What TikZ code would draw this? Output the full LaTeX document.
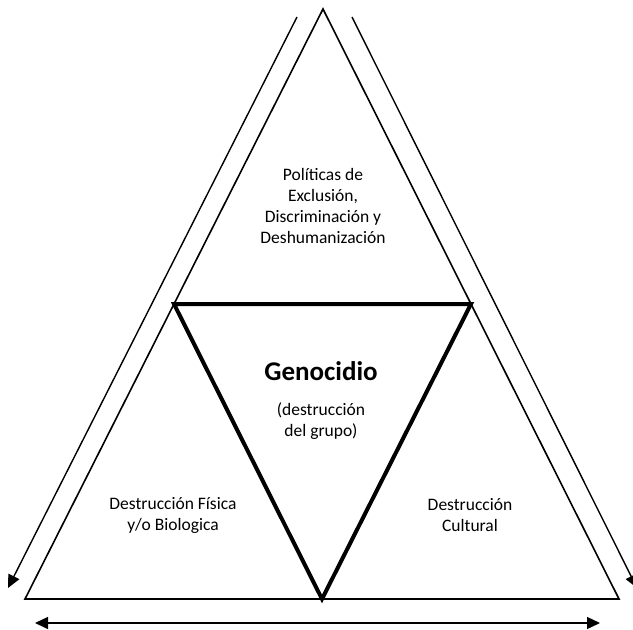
\documentclass[tikz,border=0pt]{standalone}
\usepackage{fontspec}
\setmainfont{Carlito}
\usepackage{tikz}
\usetikzlibrary{arrows.meta,calc}

\begin{document}
\begin{tikzpicture}[x=1pt, y=-1pt,
    outer/.style={line width=1.6pt, line join=miter},
    inner/.style={line width=4pt, line join=miter},
    label/.style={align=center, font=\fontsize{17.5}{21}\selectfont},
    arrow/.style={-{Triangle[length=13pt, width=12pt]}, line width=1.4pt}
]
\useasboundingbox (0,0) rectangle (633,630);

% outer triangle
\coordinate (top) at (323,9);
\coordinate (bl) at (25,599);
\coordinate (br) at (619,599);
\draw[outer] (top) -- (bl) -- (br) -- cycle;

% inner triangle on the midpoints
\coordinate (ml) at ($(top)!0.5!(bl)$);
\coordinate (mr) at ($(top)!0.5!(br)$);
\coordinate (mb) at ($(bl)!0.5!(br)$);
\draw[inner] (ml) -- (mr) -- (mb) -- cycle;

% texts
\node[label] (politicas) at (323,206) {Políticas de\\Exclusión,\\Discriminación y\\Deshumanización};
\node[align=center, font=\fontsize{27}{30}\selectfont\bfseries] (genocidio) at (321,371) {Genocidio};
\node[label] (grupo) at (321,421) {(destrucción\\del grupo)};
\node[label] (fisica) at (173,515) {Destrucción Física\\y/o Biologica};
\node[label] (cultural) at (470,515) {Destrucción\\Cultural};

% arrows
\coordinate (la) at (297,17);
\coordinate (lb) at (8,588);
\coordinate (ra) at (352,17);
\coordinate (rb) at (637,588);
\coordinate (ba) at (35,623);
\coordinate (bb) at (600,623);
\draw[arrow] (la) -- (lb);
\draw[arrow] (ra) -- (rb);
\draw[arrow, {Triangle[length=13pt, width=12pt]}-{Triangle[length=13pt, width=12pt]}] (ba) -- (bb);
\end{tikzpicture}
\end{document}
